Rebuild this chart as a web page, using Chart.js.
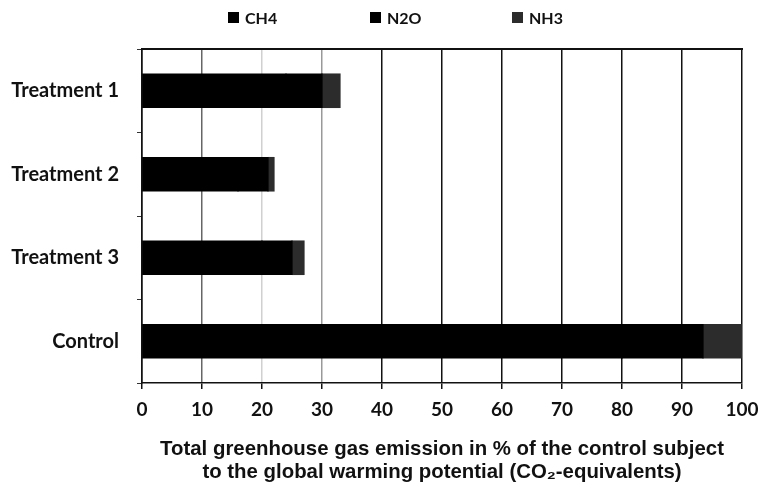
<!DOCTYPE html>
<html>
<head>
<meta charset="utf-8">
<script src="https://cdn.jsdelivr.net/npm/chart.js@4.4.1/dist/chart.umd.min.js"></script>
<style>
    html, body { margin: 0; padding: 0; background: #fff; }
    #wrap { position: relative; width: 760px; height: 486px; }
    #legend { position: absolute; left: 228px; top: 8px; display: flex; font: bold 16px Lato, sans-serif; color: #111; }
    #legend .item { width: 142px; display: flex; align-items: center; }
    #legend .box { width: 11px; height: 11px; margin-right: 6px; }
</style>
</head>
<body>
<div id="wrap">
    <div id="legend"></div>
    <canvas id="chart" width="760" height="486"></canvas>
</div>
<script>
const categories = ['Treatment 1', 'Treatment 2', 'Treatment 3', 'Control'];
const seriesNames = ['CH4', 'N2O', 'NH3'];
const ch4Values = [24, 16, 20, 80];
const n2oValues = [6, 5, 5, 13.5];
const nh3Values = [3, 1, 2, 6.5];
const xTicks = [0, 10, 20, 30, 40, 50, 60, 70, 80, 90, 100];
const xTitle = ['Total greenhouse gas emission in % of the control subject', 'to the global warming potential (CO\u2082-equivalents)'];

const colors = ['#000000', '#000000', '#2c2c2c'];
// the scan shows the first gridlines fainter than the rest
const gridShade = { 10: '#666', 20: '#d0d0d0', 30: '#999' };

const legend = document.getElementById('legend');
seriesNames.forEach((name, i) => {
    const item = document.createElement('div');
    item.className = 'item';
    item.innerHTML = '<span class="box" style="background:' + colors[i] + '"></span>' + name;
    legend.appendChild(item);
});

new Chart(document.getElementById('chart'), {
    type: 'bar',
    data: {
        labels: categories,
        datasets: [
            { label: seriesNames[0], data: ch4Values, backgroundColor: colors[0] },
            { label: seriesNames[1], data: n2oValues, backgroundColor: colors[1] },
            { label: seriesNames[2], data: nh3Values, backgroundColor: colors[2] },
        ],
    },
    options: {
        indexAxis: 'y',
        responsive: false,
        animation: false,
        layout: { padding: { top: 49, right: 18, bottom: 0, left: 0 } },
        datasets: { bar: { barPercentage: 0.4, categoryPercentage: 1, inflateAmount: 0.6 } },
        plugins: { legend: { display: false }, tooltip: { enabled: false } },
        scales: {
            x: {
                stacked: true,
                min: 0,
                max: 100,
                afterBuildTicks: (scale) => { scale.ticks = xTicks.map((v) => ({ value: v })); },
                afterFit: (scale) => {
                    scale.height = 103;
                    scale.paddingRight = 0;
                },
                ticks: { color: '#111', font: { family: 'Lato, sans-serif', weight: 'bold', size: 19 }, padding: 9 },
                grid: {
                    color: (ctx) => gridShade[ctx.tick && ctx.tick.value] || '#111',
                    lineWidth: 1.5,
                    tickColor: '#111',
                    tickLength: 6,
                },
                border: { color: '#111', width: 1.5 },
                title: {
                    display: true,
                    text: xTitle,
                    color: '#111',
                    font: { family: '"Liberation Sans", Arial, sans-serif', weight: 'bold', size: 20.4, lineHeight: 1.13 },
                    padding: { top: 0, bottom: 2 },
                },
            },
            x2: {
                position: 'top',
                min: 0,
                max: 100,
                afterFit: (scale) => { scale.height = 0; },
                ticks: { display: false },
                grid: { drawOnChartArea: false, drawTicks: false },
                border: { color: '#111', width: 2 },
            },
            y: {
                stacked: true,
                afterFit: (scale) => { scale.width = 142; },
                ticks: { color: '#111', font: { family: 'Lato, sans-serif', weight: 'bold', size: 20 }, padding: 18 },
                grid: { offset: true, drawOnChartArea: false, tickLength: 5, tickColor: '#333' },
                border: { color: '#111', width: 1.5 },
            },
        },
    },
});
</script>
</body>
</html>
